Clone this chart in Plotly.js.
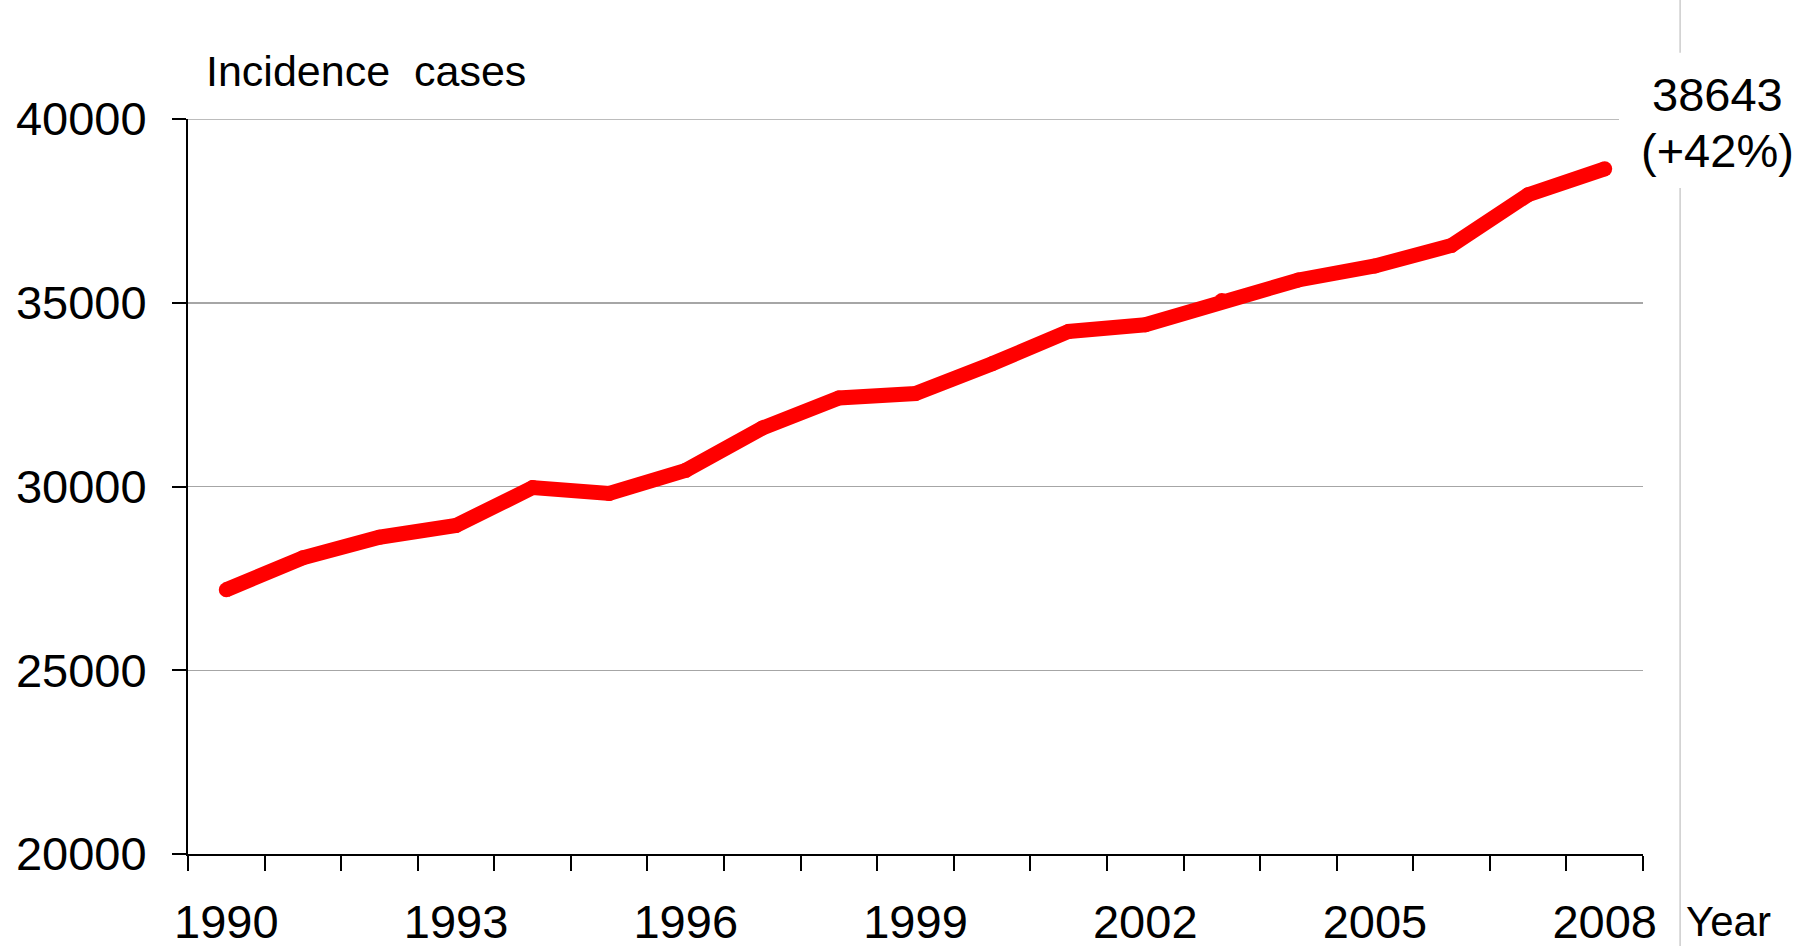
<!DOCTYPE html>
<html>
<head>
<meta charset="utf-8">
<script src="https://cdn.plot.ly/plotly-3.0.1.min.js"></script>
<style>
html,body{margin:0;padding:0;background:#fff;}
#chart{width:1800px;height:946px;}
</style>
</head>
<body>
<div id="chart"></div>
<script>
const years = [1990,1991,1992,1993,1994,1995,1996,1997,1998,1999,2000,2001,2002,2003,2004,2005,2006,2007,2008];
const incidence = [27190,28060,28620,28940,29970,29810,30440,31590,32410,32530,33340,34220,34400,35060,35620,36000,36560,37940,38643];
const yTicks = [20000,25000,30000,35000,40000];
const xLabelYears = [1990,1993,1996,1999,2002,2005,2008];
const yTitle = "Incidence  cases";
const xTitle = "Year";
const endValue = "38643";
const endChange = "(+42%)";

const font = "Liberation Sans, Arial, sans-serif";

const trace = {
  x: years,
  y: incidence,
  type: "scatter",
  mode: "lines+markers",
  line: {color: "#ff0000", width: 15},
  marker: {color: "#ff0000", size: 15},
  hoverinfo: "x+y"
};

const layout = {
  width: 1800,
  height: 946,
  paper_bgcolor: "#ffffff",
  plot_bgcolor: "#ffffff",
  showlegend: false,
  margin: {l: 188, r: 157, t: 119, b: 92},
  font: {family: font, color: "#000", size: 47},
  xaxis: {
    range: [1989.5, 2008.5],
    tickvals: xLabelYears,
    ticktext: xLabelYears.map(String),
    ticks: "",
    showgrid: false,
    zeroline: false,
    showline: true,
    linecolor: "#000",
    linewidth: 2,
    ticklabelstandoff: 26,
    tickfont: {family: font, size: 47, color: "#000"},
    minor: {tick0: 1989.5, dtick: 1, ticks: "outside", ticklen: 15, tickwidth: 2, tickcolor: "#000", showgrid: false}
  },
  yaxis: {
    range: [20000, 40000],
    tickvals: yTicks,
    ticktext: yTicks.map(String),
    ticks: "outside",
    ticklen: 14,
    tickwidth: 2,
    tickcolor: "#000",
    showgrid: true,
    gridcolor: "#a6a6a6",
    gridwidth: 1.5,
    zeroline: false,
    showline: true,
    linecolor: "#000",
    linewidth: 2,
    ticklabelstandoff: 16,
    tickfont: {family: font, size: 47, color: "#000"}
  },
  shapes: [
    {type: "line", xref: "paper", yref: "y", x0: 0, x1: 0.9835, y0: 40000, y1: 40000, line: {color: "#a6a6a6", width: 1.5}, layer: "below"},
    {type: "line", xref: "paper", yref: "paper", x0: 1.0255, x1: 1.0255, y0: 1.09, y1: 1.165, line: {color: "#cccccc", width: 1.5}, layer: "below"},
    {type: "line", xref: "paper", yref: "paper", x0: 1.0255, x1: 1.0255, y0: -0.13, y1: 0.906, line: {color: "#cccccc", width: 1.5}, layer: "below"}
  ],
  annotations: [
    {xref: "paper", yref: "paper", x: 0.011, y: 1.065, xanchor: "left", yanchor: "middle", text: yTitle, showarrow: false, font: {family: font, size: 43, color: "#000"}},
    {xref: "paper", yref: "paper", x: 1.051, y: 1.0327, xanchor: "center", yanchor: "middle", text: endValue, showarrow: false, font: {family: font, size: 47, color: "#000"}},
    {xref: "paper", yref: "paper", x: 1.051, y: 0.9578, xanchor: "center", yanchor: "middle", text: endChange, showarrow: false, font: {family: font, size: 47, color: "#000"}},
    {xref: "paper", yref: "paper", x: 1.0285, y: -0.092, xanchor: "left", yanchor: "middle", text: xTitle, showarrow: false, font: {family: font, size: 42, color: "#000"}}
  ]
};

Plotly.newPlot("chart", [trace], layout, {displayModeBar: false, staticPlot: true});
</script>
</body>
</html>
